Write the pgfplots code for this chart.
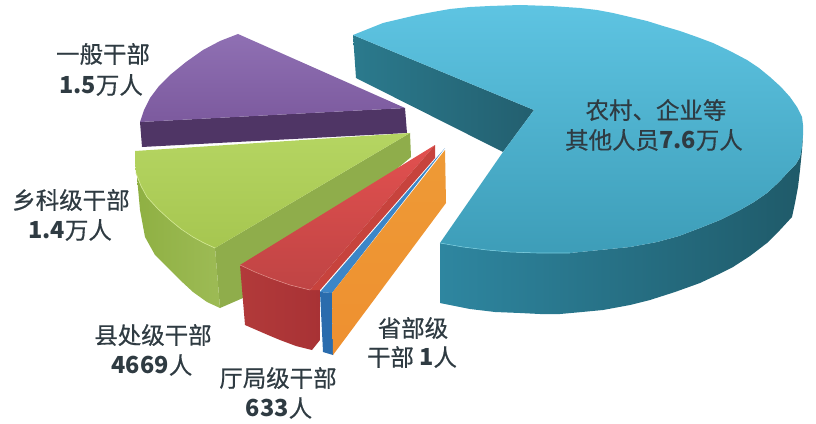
\documentclass[border=0pt]{standalone}
\usepackage{fontspec}
\usepackage{pgfplots}
\pgfplotsset{compat=1.18}
\newfontfamily\cjk[FakeBold=0.5]{Noto Sans CJK SC}
\newfontfamily\num{Noto Sans CJK SC}
\newcommand{\n}[1]{{\num\bfseries #1}}
\definecolor{txt}{HTML}{2F3B42}
\definecolor{tealcutA}{HTML}{2B7A8D}
\definecolor{tealcutB}{HTML}{235F6F}
\definecolor{tealwallA}{HTML}{2E86A0}
\definecolor{tealwallB}{HTML}{2A7187}
\definecolor{tealwallC}{HTML}{1F5A69}
\definecolor{tealtopA}{HTML}{5EC4E2}
\definecolor{tealtopB}{HTML}{3D9DB8}
\definecolor{tealrim}{HTML}{76CBDD}
\definecolor{purpwall}{HTML}{4F3565}
\definecolor{purptopA}{HTML}{8F70B3}
\definecolor{purptopB}{HTML}{7C5A9E}
\definecolor{greencut}{HTML}{8FAD4B}
\definecolor{greenwallA}{HTML}{8FB043}
\definecolor{greenwallB}{HTML}{9DBB55}
\definecolor{greentopA}{HTML}{B5D562}
\definecolor{greentopB}{HTML}{A6C650}
\definecolor{greenrim}{HTML}{D0E690}
\definecolor{redwallA}{HTML}{B23A3A}
\definecolor{redwallB}{HTML}{A83235}
\definecolor{redtopA}{HTML}{E2504F}
\definecolor{redtopB}{HTML}{BF4444}
\definecolor{redcut}{HTML}{C7433D}
\definecolor{redrim}{HTML}{E08A86}
\definecolor{bluetop}{HTML}{3C86C8}
\definecolor{bluewall}{HTML}{2A6CAD}
\definecolor{orangeA}{HTML}{EE9A36}
\definecolor{orangeB}{HTML}{EE9030}
\tikzset{lbl/.style={font=\cjk\fontsize{17.6pt}{20pt}\selectfont, text=txt, inner sep=0pt}}
\begin{document}
\begin{tikzpicture}
\begin{axis}[
    width=612pt, height=318pt, scale only axis,
    xmin=0, xmax=816, ymin=0, ymax=424, y dir=reverse,
    axis line style={draw=none}, ticks=none,
    clip=false,
    every axis plot/.append style={draw=none},
]
% teal slice, cut wall
\addplot[left color=tealcutA, right color=tealcutB] coordinates {
 (353,35)(356,78)(503,152)(534,110)} --cycle;
% teal slice, outer wall
\addplot[left color=tealwallA, middle color=tealwallB, right color=tealwallC] coordinates {
 (440,243)(440,303)(455,306)(470,309)(495,312)(520,313)(540,314)(560,314)(582,312)(603,310)(630,305)(650,300)
 (675,292)(700,283)(717,275)(733,267)(750,256)(767,243)(780,230)(792,217)(795,203)(798,187)(800,170)(802,150)
 (803,135)(800,157)(796,164)(790,170)(779,182)(767,193)(754,202)(740,210)(720,220)(700,228)(679,236)(657,242)
 (630,247)(600,250)(570,253)(537,253)(510,252)(487,250)(463,247)} --cycle;
% teal slice, top
\addplot[top color=tealtopA, bottom color=tealtopB] coordinates {
 (353,35)(368,29)(383,23)(400,19)(417,15)(433,12)(450,9)(470,7)(490,6)(520,5)(550,6)(580,8)(597,10)(613,13)
 (630,17)(647,21)(663,26)(680,31)(697,37)(713,43)(730,51)(747,60)(759,68)(770,77)(781,87)(790,97)(797,107)
 (802,117)(803,125)(803,135)(802,147)(800,157)(796,164)(790,170)(779,182)(767,193)(754,202)(740,210)(720,220)
 (700,228)(679,236)(657,242)(630,247)(600,250)(570,253)(537,253)(510,252)(487,250)(463,247)(440,243)
 (503,152)(534,110)} --cycle;
\addplot[draw=tealrim, line width=0.4pt] coordinates {
 (440,243)(463,247)(487,250)(510,252)(537,253)(570,253)};
% purple slice
\addplot[fill=purpwall] coordinates {(140,122)(405,108)(407,133)(142,147)} --cycle;
\addplot[top color=purptopA, bottom color=purptopB] coordinates {
 (238,34)(405,108)(140,122)(144,110)(150,98)(159,86)(170,75)(186,62)(203,50)(220,41)} --cycle;
% green slice
\addplot[fill=greencut] coordinates {(215,248)(410,133)(411,157)(243,298)(220,308)} --cycle;
\addplot[left color=greenwallA, right color=greenwallB] coordinates {
 (137,177)(140,210)(145,237)(155,255)(167,267)(180,280)(193,292)(207,302)(220,308)(215,248)
 (204,243)(193,237)(181,229)(170,220)(158,209)(147,197)(141,186)} --cycle;
\addplot[top color=greentopA, bottom color=greentopB] coordinates {
 (410,133)(135,151)(135,162)(136,173)(141,186)(147,197)(158,209)(170,220)(181,229)(193,237)(204,243)(215,248)} --cycle;
\addplot[draw=greenrim, line width=0.5pt] coordinates {
 (136,173)(141,186)(147,197)(158,209)(170,220)(181,229)(193,237)(204,243)(215,248)};
% red slice
\addplot[left color=redwallA, right color=redwallB] coordinates {
 (240,265)(245,325)(268,335)(280,340)(296,346)(312,350)(320,340)(320,290)(310,290)(290,285)(270,278)(255,272)} --cycle;
\addplot[top color=redtopA, bottom color=redtopB] coordinates {(435,145)(310,290)(290,285)(270,278)(255,272)(240,265)} --cycle;
\addplot[fill=redcut] coordinates {(435,145)(435,158)(320,290)(310,290)} --cycle;
\addplot[draw=redrim, line width=0.4pt] coordinates {(240,265)(255,272)(270,278)(290,285)(310,290)};
% blue sliver
\addplot[fill=bluetop] coordinates {(445,148)(332,293)(320,292)} --cycle;
\addplot[fill=bluewall] coordinates {(320,292)(323,352)(333,355)(332,293)} --cycle;
% orange sliver
\addplot[top color=orangeA, bottom color=orangeB] coordinates {(445,150)(446,203)(333,355)(332,293)} --cycle;
% labels
\node[lbl] at (axis cs:103,54) {一般干部};
\node[lbl] at (axis cs:101,85) {\n{1.5}万人};
\node[lbl] at (axis cs:71,200) {乡科级干部};
\node[lbl] at (axis cs:70,230) {\n{1.4}万人};
\node[lbl] at (axis cs:153,335) {县处级干部};
\node[lbl] at (axis cs:152,365) {\n{4669}人};
\node[lbl] at (axis cs:278,378) {厅局级干部};
\node[lbl] at (axis cs:279,408) {\n{633}人};
\node[lbl] at (axis cs:413,328) {省部级};
\node[lbl] at (axis cs:412,357) {干部 \n{1}人};
\node[lbl] at (axis cs:656,110) {农村、企业等};
\node[lbl] at (axis cs:654,140) {其他人员\n{7.6}万人};
\end{axis}
\end{tikzpicture}
\end{document}
